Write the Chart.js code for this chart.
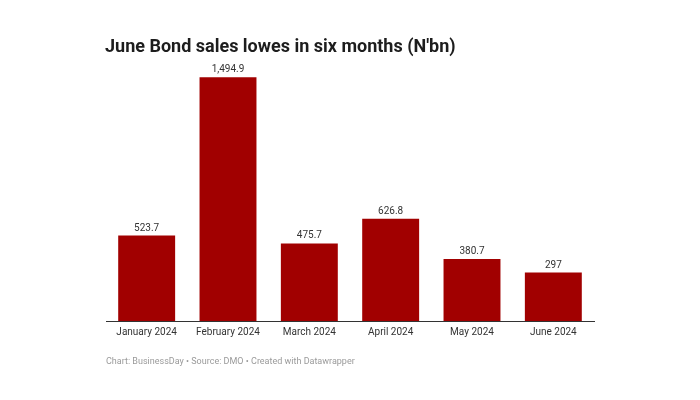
<!DOCTYPE html>
<html>
<head>
<meta charset="utf-8">
<script src="https://cdn.jsdelivr.net/npm/chart.js@4"></script>
<style>
html,body{margin:0;padding:0;background:#fff;}
#wrap{width:700px;height:400px;}
</style>
</head>
<body>
<div id="wrap"><canvas id="c" width="700" height="400"></canvas></div>
<script>
const categories = ["January 2024","February 2024","March 2024","April 2024","May 2024","June 2024"];
const bondSales = [523.7, 1494.9, 475.7, 626.8, 380.7, 297];
const valueLabels = ["523.7","1,494.9","475.7","626.8","380.7","297"];
const titleText = "June Bond sales lowes in six months (N'bn)";
const footerText = "Chart: BusinessDay \u2022 Source: DMO \u2022 Created with Datawrapper";

const textPlugin = {
  id: 'texts',
  afterDraw(chart) {
    const ctx = chart.ctx;
    ctx.save();
    ctx.fillStyle = '#1d1d1d';
    ctx.font = 'bold 18px Roboto';
    ctx.textBaseline = 'alphabetic';
    ctx.textAlign = 'left';
    ctx.fillText(titleText, 105, 52);
    ctx.fillStyle = '#9a9a9a';
    ctx.font = '9px Roboto';
    ctx.fillText(footerText, 106, 364);
    const meta = chart.getDatasetMeta(0);
    ctx.fillStyle = '#333333';
    ctx.font = '10px Roboto';
    ctx.textAlign = 'center';
    meta.data.forEach((bar, i) => {
      ctx.fillText(valueLabels[i], bar.x, bar.y - 5);
    });
    ctx.restore();
  }
};

new Chart(document.getElementById('c'), {
  type: 'bar',
  data: {
    labels: categories,
    datasets: [{
      data: bondSales,
      backgroundColor: '#a10000',
      borderWidth: 0,
      categoryPercentage: 1.0,
      barPercentage: 0.7
    }]
  },
  options: {
    responsive: false,
    animation: false,
    devicePixelRatio: 1,
    layout: { padding: { left: 106, right: 106, top: 60, bottom: 59 } },
    plugins: { legend: { display: false }, tooltip: { enabled: false }, title: { display: false } },
    scales: {
      x: {
        grid: { display: false, drawTicks: false },
        border: { display: true, color: '#333333', width: 1 },
        ticks: { color: '#333333', font: { family: 'Roboto', size: 10 }, padding: 5, maxRotation: 0, autoSkip: false },
        afterFit(s) { s.height = 20; }
      },
      y: {
        display: false,
        min: 0,
        max: 1600
      }
    }
  },
  plugins: [textPlugin]
});
</script>
</body>
</html>
